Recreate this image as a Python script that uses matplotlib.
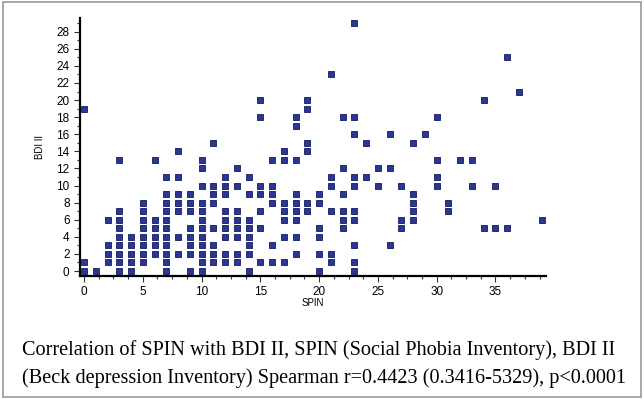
import matplotlib
matplotlib.use("Agg")
import numpy as np
from matplotlib import pyplot as plt
from matplotlib.patches import Rectangle
from matplotlib.ticker import MultipleLocator

# SPIN score of each column and the BDI II scores stacked in it
spin_scores = [0, 1, 2, 3, 4, 5, 6, 7, 8, 9,
               10, 11, 12, 13, 14, 15, 16, 17, 18, 19,
               20, 21, 22, 23, 24, 25, 26, 27, 28, 29,
               30, 31, 32, 33, 34, 35, 36, 37, 39]
bdi_by_spin = [
    [19, 1, 0],
    [0],
    [6, 3, 2, 1],
    [13, 7, 6, 5, 4, 3, 2, 1, 0],
    [4, 3, 2, 1, 0],
    [8, 7, 6, 5, 4, 3, 2, 1],
    [13, 6, 5, 4, 3, 2],
    [11, 9, 8, 7, 6, 5, 4, 3, 2, 1, 0],
    [14, 11, 9, 8, 7, 4, 2],
    [9, 8, 7, 5, 4, 3, 2, 0],
    [13, 12, 10, 8, 7, 6, 5, 4, 3, 2, 1, 0],
    [15, 10, 9, 8, 5, 3, 2, 1],
    [11, 10, 9, 7, 6, 5, 4, 2, 1],
    [12, 10, 7, 6, 5, 4, 2, 1],
    [11, 9, 6, 5, 4, 3, 2, 0],
    [20, 18, 10, 9, 7, 5, 1],
    [13, 10, 9, 8, 3, 1],
    [14, 13, 8, 7, 6, 4, 1],
    [18, 17, 13, 9, 8, 7, 6, 4, 2],
    [20, 19, 15, 14, 8, 7],
    [9, 8, 5, 4, 2, 0],
    [23, 11, 10, 7, 2, 1],
    [18, 12, 9, 7, 6, 5],
    [29, 18, 16, 11, 10, 7, 6, 3, 1, 0],
    [15, 11],
    [12, 10],
    [16, 12, 3],
    [10, 6, 5],
    [15, 9, 8, 7, 6],
    [16],
    [18, 13, 11, 10],
    [8, 7],
    [13],
    [13, 10],
    [20, 5],
    [10, 5],
    [25, 5],
    [21],
    [6],
]

caption_lines = [
    "Correlation of SPIN with BDI II, SPIN (Social Phobia Inventory), BDI II",
    "(Beck depression Inventory) Spearman r=0.4423 (0.3416-5329), p<0.0001",
]

x = []
y = []
for s, col in zip(spin_scores, bdi_by_spin):
    for b in col:
        x.append(s)
        y.append(b)

sans = ["Liberation Sans Narrow", "Liberation Sans", "DejaVu Sans"]
serif = ["Liberation Serif", "DejaVu Serif"]

fig = plt.figure(figsize=(6.44, 3.99), dpi=100)
fig.patches.append(Rectangle((0.004, 0.004), 0.992, 0.99, transform=fig.transFigure,
                             fill=False, edgecolor="#9a9a9a", linewidth=1.2))

ax = fig.add_axes([80 / 644, 1 - 276 / 399, 466 / 644, 258 / 399])
ax.scatter(x, y, marker="s", s=24, facecolor="#2b3796", edgecolor="#161c5c",
           linewidth=0.6, zorder=3)

ax.set_xlim(-0.34, 39.3)
ax.set_ylim(-0.58, 29.6)
ax.spines["top"].set_visible(False)
ax.spines["right"].set_visible(False)
ax.spines["left"].set_linewidth(1.6)
ax.spines["bottom"].set_linewidth(1.6)

ax.xaxis.set_major_locator(MultipleLocator(5))
ax.xaxis.set_minor_locator(MultipleLocator(1.25))
ax.yaxis.set_major_locator(MultipleLocator(2))
ax.yaxis.set_minor_locator(MultipleLocator(1))
ax.set_yticks(range(0, 29, 2))
ax.tick_params(which="both", direction="out", color="#333333", width=0.8)
ax.tick_params(which="major", length=4, labelsize=8.5)
ax.tick_params(which="minor", length=2.5)
for lab in ax.get_xticklabels() + ax.get_yticklabels():
    lab.set_family(sans)

ax.set_xlabel("SPIN", fontsize=7, family=sans, labelpad=0)
ax.set_ylabel("BDI II", fontsize=7, family=sans, labelpad=8)

fig.text(22 / 644, 1 - 350 / 399, caption_lines[0], fontsize=14.6,
         family=serif, va="center")
fig.text(22 / 644, 1 - 378 / 399, caption_lines[1], fontsize=14.6,
         family=serif, va="center")

fig.savefig("out.png", dpi=100)
